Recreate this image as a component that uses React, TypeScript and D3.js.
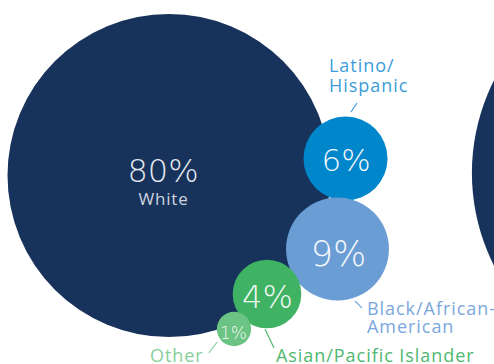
import React from "react";
import * as d3 from "d3";

const groups = ["White", "Latino/Hispanic", "Black/African-American", "Asian/Pacific Islander", "Other"];
const values = [80, 6, 9, 4, 1];
const valueLabels = ["80%", "6%", "9%", "4%", "1%"];

const W = 494;
const H = 364;

// layout (bubble centres) and styles
const centers: [number, number][] = [
  [169, 175.5],
  [345.5, 158.5],
  [337.5, 249],
  [267, 294],
  [234, 329],
];
const fills = ["#17335c", "#0086ca", "#6a9dd4", "#3fb264", "#6bc384"];
const labelColors = ["#d9dde6", "#3d9cd9", "#7ba8dc", "#4fb870", "#86d09a"];
const pctSizes = [32, 31, 35, 32, 17];

const rScale = d3.scaleSqrt().domain([0, 80]).range([0, 161.5]);

const THIN = "'DejaVu Sans', sans-serif";
const FONT = "'Open Sans', Lato, sans-serif";

export default function App() {
  const line = d3.line();
  return (
    <svg
      width={W}
      height={H}
      style={{ position: "absolute", left: 0, top: 0, background: "#fff" }}
      fontFamily={FONT}
    >
      {/* neighbouring panel's big circle, partly visible */}
      <circle cx={677} cy={173} r={rScale(80) * 1.27} fill={fills[0]} />
      {values.map((v, i) => {
        const r = i === 0 ? rScale(v) : rScale(v) * 0.95;
        return <circle key={groups[i]} cx={centers[i][0]} cy={centers[i][1]} r={r} fill={fills[i]} />;
      })}
      {/* percentages */}
      <g fontFamily={THIN} fontWeight={200} textAnchor="middle">
        <text x={163} y={182} fontSize={pctSizes[0]} fill="#e6e9ef">{valueLabels[0]}</text>
        <text x={346} y={171} fontSize={pctSizes[1]} fill="#f2f7fc">{valueLabels[1]}</text>
        <text x={338.5} y={266} fontSize={pctSizes[2]} fill="#f4f7fc">{valueLabels[2]}</text>
        <text x={267.5} y={308} fontSize={pctSizes[3]} fill="#f2f9f3">{valueLabels[3]}</text>
        <text x={233.5} y={339} fontSize={pctSizes[4]} fill="#f2f9f3">{valueLabels[4]}</text>
      </g>
      <text x={163.5} y={205} textAnchor="middle" fontSize={17} letterSpacing={0.8} fill="#cfd5df">
        {groups[0]}
      </text>

      {/* outside labels */}
      <g fontSize={18} letterSpacing={0.95}>
        <text x={329} y={72} fill={labelColors[1]}>Latino/</text>
        <text x={329} y={92} fill={labelColors[1]}>Hispanic</text>
        <path d={line([[357, 103], [351, 112]]) || ""} stroke={labelColors[1]} strokeWidth={1.2} />

        <text x={367} y={315} fill={labelColors[2]}>Black/African-</text>
        <text x={367} y={333} fill={labelColors[2]}>American</text>
        <path d={line([[355, 301], [362, 308]]) || ""} stroke={labelColors[2]} strokeWidth={1.2} />

        <text x={276} y={362} fill={labelColors[3]}>Asian/Pacific Islander</text>
        <path d={line([[265, 329], [274, 348]]) || ""} stroke={labelColors[3]} strokeWidth={1.2} />

        <text x={150} y={362} fill={labelColors[4]}>Other</text>
        <path d={line([[217, 342], [209, 353]]) || ""} stroke={labelColors[4]} strokeWidth={1.2} />
      </g>
    </svg>
  );
}
